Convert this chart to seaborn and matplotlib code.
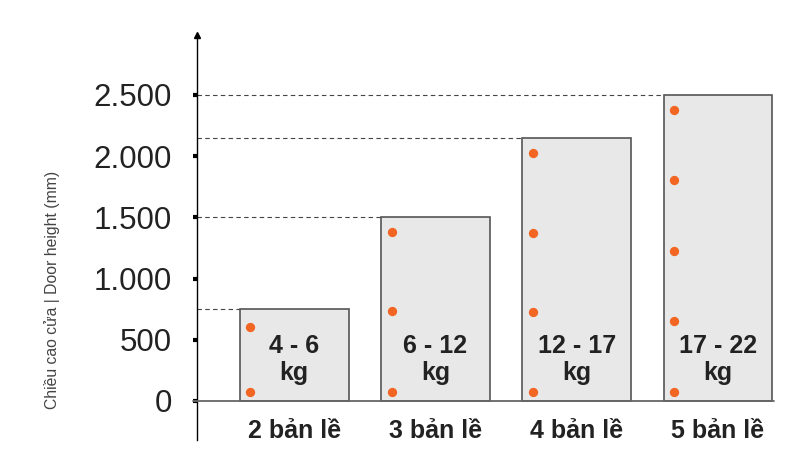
import matplotlib
matplotlib.use("Agg")
import matplotlib.pyplot as plt
import seaborn as sns
import numpy as np
import pandas as pd

sns.set_theme(style="white")
plt.rcParams['font.family'] = ['Liberation Sans', 'DejaVu Sans']

# data
hinge_labels = ["2 bản lề", "3 bản lề", "4 bản lề", "5 bản lề"]
door_heights = [750, 1500, 2150, 2500]
weight_labels = ["4 - 6\nkg", "6 - 12\nkg", "12 - 17\nkg", "17 - 22\nkg"]
hinge_pos = [
    [75, 605],
    [75, 735, 1380],
    [75, 725, 1372, 2022],
    [75, 654, 1228, 1805, 2380],
]
ytick_vals = [0, 500, 1000, 1500, 2000, 2500]
ytick_text = ["0", "500", "1.000", "1.500", "2.000", "2.500"]

bar_w = 0.77
txt_col = "#222222"
orange = "#f26522"

fig = plt.figure(figsize=(8, 4.67), dpi=100)
ax = fig.add_axes([0.246, 0.058, 0.729, 0.867])

sns.barplot(x=hinge_labels, y=door_heights, order=hinge_labels, width=bar_w,
            color="#e8e8e8", saturation=1, edgecolor="#555555", linewidth=1.2,
            ax=ax, zorder=2)

# hinge dots
rows = []
for i, pos in enumerate(hinge_pos):
    for p in pos:
        rows.append({"x": i - bar_w / 2 + 0.075, "y": p})
dots = pd.DataFrame(rows)
ax.scatter(dots["x"], dots["y"], s=45, color=orange, zorder=4, linewidths=0)

xmin, xmax = -0.69, 3.44
ax.set_xlim(xmin, xmax)
ax.set_ylim(-319, 2990)

# dashed guide lines
for i, h in enumerate(door_heights):
    ax.plot([xmin, i - bar_w / 2], [h, h], ls=(0, (4, 3)), color="#444444",
            lw=0.8, zorder=1)

# baseline
ax.plot([xmin - 0.03, 3 + bar_w / 2 + 0.01], [0, 0], color="#666666", lw=1.3,
        zorder=3, clip_on=False)

# text in bars and below
for i, t in enumerate(weight_labels):
    ax.text(i, 338, t, ha="center", va="center", fontsize=18,
            fontweight="bold", color=txt_col, linespacing=1.2, zorder=5)
for i, t in enumerate(hinge_labels):
    ax.text(i, -245, t, ha="center", va="center", fontsize=18,
            fontweight="bold", color=txt_col)

ax.set_xticks([])
ax.set_yticks(ytick_vals)
ax.set_yticklabels(ytick_text, fontsize=22.5, color=txt_col)
ax.tick_params(axis="y", direction="out", length=3, width=3, color="black",
               pad=15, left=True)

for s in ["top", "right", "bottom"]:
    ax.spines[s].set_visible(False)
ax.spines["left"].set_color("black")
ax.spines["left"].set_linewidth(1.0)
ax.plot(0, 1, marker="^", markersize=5, color="black",
        transform=ax.transAxes, clip_on=False)

ax.set_ylabel("Chiều cao cửa | Door height (mm)", fontsize=11.3, color="#444444")
ax.yaxis.set_label_coords(-0.235, 0.37)
ax.set_xlabel("")

fig.savefig("out.png", dpi=100)
